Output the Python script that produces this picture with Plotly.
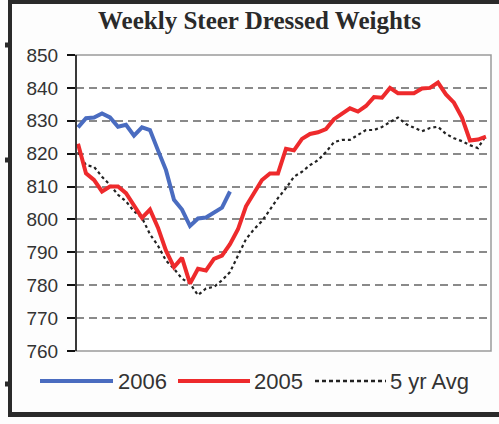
import plotly.graph_objects as go

weeks = list(range(1, 53))

y2006 = [828, 830.8, 831, 832.2, 831, 828.2, 828.8, 825.5, 828, 827.2,
         821, 815, 806, 803, 798, 800.3, 800.6, 802, 803.6, 808.5]

y2005 = [823, 814, 812, 808.5, 810, 810, 808, 804, 800.5, 803,
         797.5, 790.5, 785.5, 788.3, 780.5, 785, 784.5, 788, 789, 792.5,
         797, 804, 808, 812, 814, 814, 821.5, 821, 824.5, 826,
         826.5, 827.5, 830.5, 832.2, 833.8, 832.8, 834.5, 837.2, 837, 840,
         838.4, 838.4, 838.4, 839.8, 840, 841.6, 838, 835.5, 831, 824,
         824.3, 825.2]

avg5 = [820.5, 816.5, 816, 813, 810.5, 807.5, 805.5, 802.5, 800.5, 795.5,
        792, 787.5, 785, 782, 780.5, 777, 779, 779.5, 781.5, 784,
        789, 794, 797, 799.5, 803, 806.5, 809.5, 813, 814.5, 816.5,
        818, 820.5, 823.5, 824.2, 824.2, 825.8, 827.2, 827.2, 828.1, 829.6,
        831, 829, 827.8, 826.8, 827.8, 828.2, 826, 824.7, 823.8, 822.6,
        821.7, 825.5]

y_ticks = [760, 770, 780, 790, 800, 810, 820, 830, 840, 850]
series_names = ["2006", "2005", "5 yr Avg"]

BLUE = "#4a6cc0"
RED = "#ee2a2c"
BLACK = "#222222"

W, H = 499, 424
L, R, T, B = 76, 491, 55, 351

def px(x):
    return (x - L) / (R - L)

def py(y):
    return (B - y) / (B - T)

fig = go.Figure()
fig.add_trace(go.Scatter(x=weeks, y=avg5, mode="lines", name=series_names[2],
                         line=dict(color=BLACK, width=2.2, dash="3px,3px")))
fig.add_trace(go.Scatter(x=weeks, y=y2005, mode="lines", name=series_names[1],
                         line=dict(color=RED, width=4)))
fig.add_trace(go.Scatter(x=weeks[:len(y2006)], y=y2006, mode="lines", name=series_names[0],
                         line=dict(color=BLUE, width=4)))

shapes = []
shapes.append(dict(type="rect", xref="paper", yref="paper", x0=0, x1=1, y0=0, y1=1,
                   line=dict(color="#9a9a9a", width=1.5), layer="above"))
shapes.append(dict(type="line", xref="paper", yref="paper", x0=0, x1=0, y0=0, y1=1,
                   line=dict(color="#111", width=1.5), layer="above"))
# outer frame
shapes.append(dict(type="line", xref="paper", yref="paper", x0=px(10), x1=px(10),
                   y0=py(0), y1=py(417), line=dict(color="#2a2a2a", width=4)))
shapes.append(dict(type="line", xref="paper", yref="paper", x0=px(8), x1=px(499),
                   y0=py(2), y1=py(2), line=dict(color="#2a2a2a", width=4)))
shapes.append(dict(type="line", xref="paper", yref="paper", x0=px(8), x1=px(499),
                   y0=py(414.5), y1=py(414.5), line=dict(color="#2a2a2a", width=5)))
for ty in (45, 160, 384):
    shapes.append(dict(type="line", xref="paper", yref="paper", x0=px(5), x1=px(9),
                       y0=py(ty), y1=py(ty), line=dict(color="#2a2a2a", width=5)))

# custom legend
leg_y = py(381)
legend_items = [(40, 113, 116, series_names[0], BLUE, 4, "solid"),
                (178, 250, 252, series_names[1], RED, 4, "solid"),
                (315, 386, 388, series_names[2], BLACK, 2.5, "4px,3px")]
annotations = []
for x0, x1, xt, name, col, wd, dash in legend_items:
    shapes.append(dict(type="line", xref="paper", yref="paper", x0=px(x0), x1=px(x1),
                       y0=leg_y, y1=leg_y, line=dict(color=col, width=wd, dash=dash)))
    annotations.append(dict(text=name, xref="paper", yref="paper", x=px(xt), y=leg_y,
                            xanchor="left", yanchor="middle", showarrow=False,
                            font=dict(family="Liberation Sans, Arial", size=22, color="#333")))

annotations.append(dict(text="<b>Weekly Steer Dressed Weights</b>", xref="paper", yref="paper",
                        x=px(259.5), y=py(20), xanchor="center", yanchor="middle",
                        showarrow=False,
                        font=dict(family="Liberation Serif, Times New Roman", size=25, color="#2a2a2a")))

fig.update_layout(
    width=W, height=H,
    margin=dict(l=L, r=W - R, t=T, b=H - B),
    paper_bgcolor="#fdfdfd", plot_bgcolor="#ffffff",
    showlegend=False,
    shapes=shapes, annotations=annotations,
    xaxis=dict(range=[0.75, 52.63], showticklabels=False, showgrid=False,
               zeroline=False, ticks="", showline=False),
    yaxis=dict(range=[760, 850], tickvals=y_ticks, ticks="outside", ticklen=8,
               tickcolor="#111", tickwidth=1.5,
               showgrid=True, gridcolor="#8a8a8a", gridwidth=1.5, griddash="8px,5px",
               zeroline=False, showline=False,
               tickfont=dict(family="Liberation Sans, Arial", size=19, color="#333"),
               ticklabelstandoff=5),
)

fig.write_html("out.html", config={"displayModeBar": False},
               post_script="document.body.style.margin='0';document.body.style.overflow='hidden';")
